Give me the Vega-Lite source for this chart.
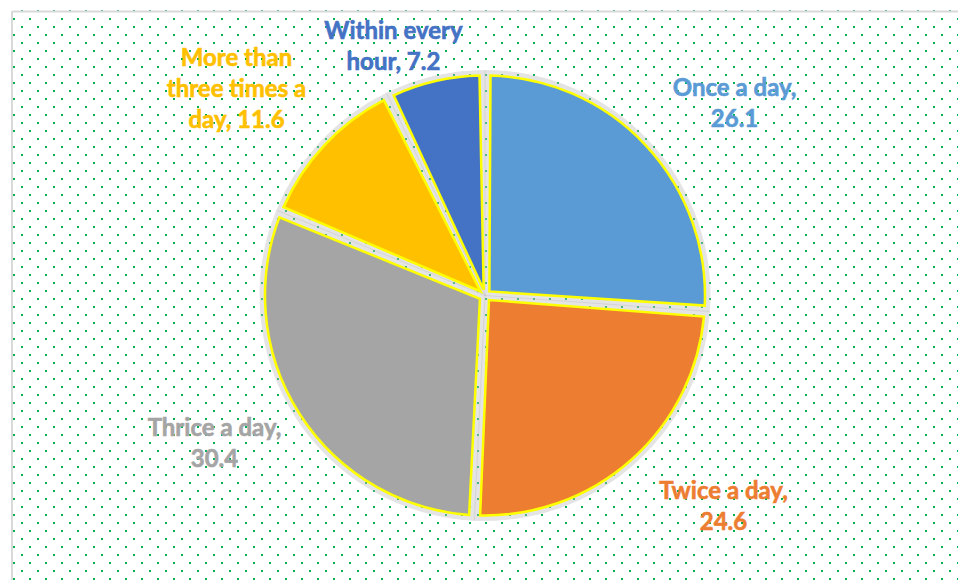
{
  "$schema": "https://vega.github.io/schema/vega-lite/v6.json",
  "autosize": {"type": "fit", "contains": "padding"},
  "width": 958,
  "height": 580,
  "padding": {"left": 9, "top": 8, "right": 0, "bottom": 0},
  "background": "white",
  "config": {"view": {"stroke": null}, "text": {"font": "Lato", "fontWeight": "bold", "fontSize": 24, "lineHeight": 31, "lineBreak": "|", "align": "center", "baseline": "middle", "strokeWidth": 0.6}},
  "data": {
    "values": [
      {"category": "Once a day", "value": 26.1, "rank": 1, "label": "Once a day,|26.1"},
      {"category": "Twice a day", "value": 24.6, "rank": 2, "label": "Twice a day,|24.6"},
      {"category": "Thrice a day", "value": 30.4, "rank": 3, "label": "Thrice a day,|30.4"},
      {"category": "More than three times a day", "value": 11.6, "rank": 4, "label": "More than|three times a|day, 11.6"},
      {"category": "Within every hour", "value": 7.2, "rank": 5, "label": "Within every|hour, 7.2"}
    ]
  },
  "encoding": {
    "color": {"field": "category", "type": "nominal", "legend": null,
      "scale": {"domain": ["Once a day", "Twice a day", "Thrice a day", "More than three times a day", "Within every hour"],
        "range": ["#5B9BD5", "#ED7D31", "#A5A5A5", "#FFC000", "#4472C4"]}}
  },
  "layer": [
    {
      "mark": {"type": "point", "opacity": 0},
      "encoding": {
        "color": {"value": "white"},
        "x": {"datum": 0, "type": "quantitative", "scale": {"domain": [0, 1]},
          "axis": {"orient": "top", "grid": false, "labels": false, "ticks": false, "title": null, "domain": true, "domainColor": "#d9d9d9", "domainWidth": 2}},
        "y": {"datum": 0, "type": "quantitative",
          "scale": {"domainMin": 0, "domainMax": {"expr": "height/8"}, "nice": false, "zero": false, "reverse": true},
          "axis": {"orient": "left", "labels": false, "ticks": false, "title": null, "domain": true, "domainColor": "#d9d9d9", "domainWidth": 2,
            "translate": 0, "tickCount": 72, "grid": true, "gridColor": "#00B050", "gridWidth": 2, "gridDash": [2, 14],
            "gridDashOffset": {"condition": {"test": "datum.value % 2 === 0", "value": 7}, "value": 15}}}
      }
    },
    {
      "mark": {"type": "arc", "outerRadius": 225, "innerRadius": 0, "fill": "#bdbdbd", "opacity": 0.4, "stroke": "#bdbdbd", "strokeWidth": 1},
      "encoding": {
        "color": {"value": "#bdbdbd"},
        "theta": {"field": "value", "type": "quantitative", "stack": true},
        "order": {"field": "rank", "type": "quantitative"}
      }
    },
    {
      "mark": {"type": "arc", "outerRadius": 220, "innerRadius": 6, "padAngle": 0.05, "stroke": "#FFFF00", "strokeWidth": 2.5},
      "encoding": {
        "theta": {"field": "value", "type": "quantitative", "stack": true},
        "order": {"field": "rank", "type": "quantitative"}
      }
    },
    {
      "transform": [
        {"stack": "value", "groupby": [], "sort": [{"field": "rank", "order": "ascending"}], "as": ["v0", "v1"]},
        {"filter": "datum.rank === 1"}
      ],
      "mark": {"type": "text", "radius": 323.6, "thetaOffset": 0.8807},
      "encoding": {
        "theta": {"field": "v0", "type": "quantitative", "scale": {"domain": [0, 99.9]}},
        "text": {"field": "label"},
        "stroke": {"field": "category", "type": "nominal", "legend": null, "scale": {"domain": ["Once a day", "Twice a day", "Thrice a day", "More than three times a day", "Within every hour"], "range": ["#5B9BD5", "#ED7D31", "#A5A5A5", "#FFC000", "#4472C4"]}}
      }
    },
    {
      "transform": [
        {"stack": "value", "groupby": [], "sort": [{"field": "rank", "order": "ascending"}], "as": ["v0", "v1"]},
        {"filter": "datum.rank === 2"}
      ],
      "mark": {"type": "text", "radius": 308.7, "thetaOffset": 0.6173},
      "encoding": {
        "theta": {"field": "v0", "type": "quantitative", "scale": {"domain": [0, 99.9]}},
        "text": {"field": "label"},
        "stroke": {"field": "category", "type": "nominal", "legend": null, "scale": {"domain": ["Once a day", "Twice a day", "Thrice a day", "More than three times a day", "Within every hour"], "range": ["#5B9BD5", "#ED7D31", "#A5A5A5", "#FFC000", "#4472C4"]}}
      }
    },
    {
      "transform": [
        {"stack": "value", "groupby": [], "sort": [{"field": "rank", "order": "ascending"}], "as": ["v0", "v1"]},
        {"filter": "datum.rank === 3"}
      ],
      "mark": {"type": "text", "radius": 301.9, "thetaOffset": 1.0638},
      "encoding": {
        "theta": {"field": "v0", "type": "quantitative", "scale": {"domain": [0, 99.9]}},
        "text": {"field": "label"},
        "stroke": {"field": "category", "type": "nominal", "legend": null, "scale": {"domain": ["Once a day", "Twice a day", "Thrice a day", "More than three times a day", "Within every hour"], "range": ["#5B9BD5", "#ED7D31", "#A5A5A5", "#FFC000", "#4472C4"]}}
      }
    },
    {
      "transform": [
        {"stack": "value", "groupby": [], "sort": [{"field": "rank", "order": "ascending"}], "as": ["v0", "v1"]},
        {"filter": "datum.rank === 4"}
      ],
      "mark": {"type": "text", "radius": 343.4, "thetaOffset": 0.3733},
      "encoding": {
        "theta": {"field": "v0", "type": "quantitative", "scale": {"domain": [0, 99.9]}},
        "text": {"field": "label"},
        "stroke": {"field": "category", "type": "nominal", "legend": null, "scale": {"domain": ["Once a day", "Twice a day", "Thrice a day", "More than three times a day", "Within every hour"], "range": ["#5B9BD5", "#ED7D31", "#A5A5A5", "#FFC000", "#4472C4"]}}
      }
    },
    {
      "transform": [
        {"stack": "value", "groupby": [], "sort": [{"field": "rank", "order": "ascending"}], "as": ["v0", "v1"]},
        {"filter": "datum.rank === 5"}
      ],
      "mark": {"type": "text", "radius": 279.4, "thetaOffset": 0.1192},
      "encoding": {
        "theta": {"field": "v0", "type": "quantitative", "scale": {"domain": [0, 99.9]}},
        "text": {"field": "label"},
        "stroke": {"field": "category", "type": "nominal", "legend": null, "scale": {"domain": ["Once a day", "Twice a day", "Thrice a day", "More than three times a day", "Within every hour"], "range": ["#5B9BD5", "#ED7D31", "#A5A5A5", "#FFC000", "#4472C4"]}}
      }
    }
  ],
  "resolve": {"scale": {"theta": "independent"}}
}
